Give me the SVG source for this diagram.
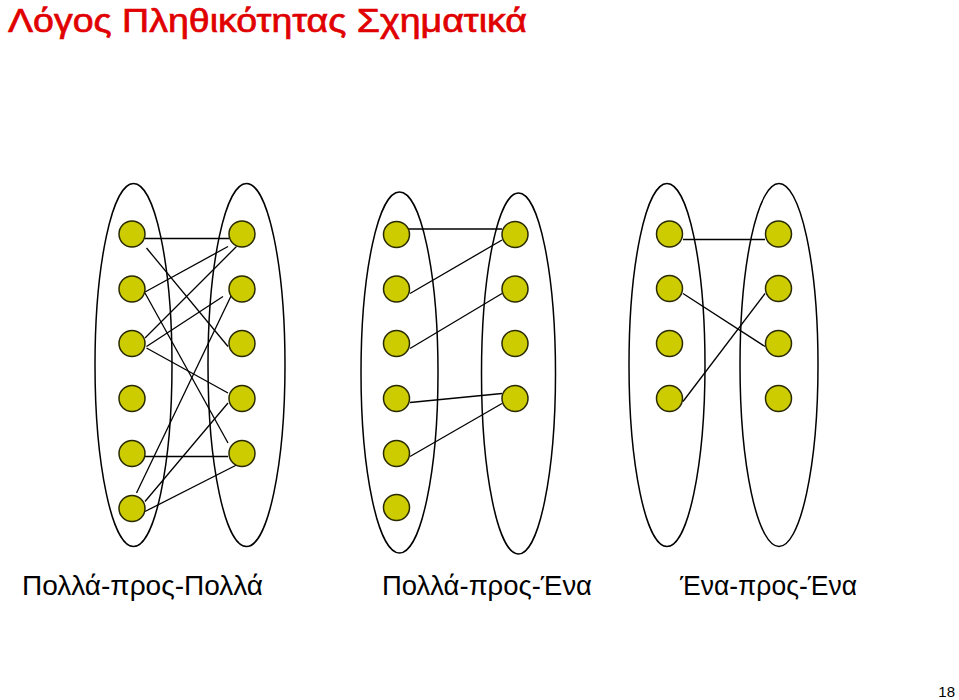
<svg xmlns="http://www.w3.org/2000/svg" width="959" height="700" viewBox="0 0 959 700">
<style>
.set{fill:none;stroke:#000;stroke-width:1.5}
.n{fill:#cccc00;stroke:#2a2a00;stroke-width:1.5}
.e{stroke:#000;stroke-width:1.3;fill:none}
.lbl{font-family:"Liberation Sans",Arial,sans-serif;font-size:28px;fill:#000}
.title{font-family:"Liberation Sans",Arial,sans-serif;font-size:34px;fill:#e00000;stroke:#e00000;stroke-width:0.7}
</style>
<rect width="959" height="700" fill="#fff"/>
<text class="title" x="8" y="32" textLength="519" lengthAdjust="spacingAndGlyphs">Λόγος Πληθικότητας Σχηματικά</text>

<g id="sets">
<ellipse id="set1L" class="set" cx="133.5" cy="365" rx="38.5" ry="181.5"/>
<ellipse id="set1R" class="set" cx="246.5" cy="365" rx="38.5" ry="181.5"/>
<ellipse id="set2L" class="set" cx="399.5" cy="372.5" rx="38.5" ry="180.5"/>
<ellipse id="set2R" class="set" cx="518.5" cy="373.5" rx="37" ry="180.5"/>
<ellipse id="set3L" class="set" cx="667" cy="365" rx="38" ry="181.5"/>
<ellipse id="set3R" class="set" cx="779" cy="365" rx="39" ry="181.5"/>
</g>

<g id="connectors">
<line class="e" x1="145" y1="238.5" x2="229" y2="238.5"/>
<line class="e" x1="146.5" y1="248" x2="228" y2="346.5"/>
<line class="e" x1="145" y1="292" x2="228" y2="246.5"/>
<line class="e" x1="145" y1="293" x2="228" y2="443"/>
<line class="e" x1="145" y1="338" x2="236.5" y2="246.5"/>
<line class="e" x1="146.5" y1="346.5" x2="223" y2="296.5"/>
<line class="e" x1="146.5" y1="348" x2="228" y2="393"/>
<line class="e" x1="145" y1="456.5" x2="228" y2="456.5"/>
<line class="e" x1="136.5" y1="493" x2="231.5" y2="295"/>
<line class="e" x1="145" y1="501.5" x2="228" y2="403"/>
<line class="e" x1="145" y1="511.5" x2="236.5" y2="465"/>

<line class="e" x1="408" y1="229" x2="502" y2="229"/>
<line class="e" x1="410" y1="293.5" x2="502" y2="240"/>
<line class="e" x1="410" y1="348.5" x2="502" y2="293.5"/>
<line class="e" x1="410" y1="402.5" x2="502" y2="393.5"/>
<line class="e" x1="410" y1="456.5" x2="502" y2="403.5"/>

<line class="e" x1="683" y1="239.5" x2="765" y2="239.5"/>
<line class="e" x1="683" y1="293.5" x2="765" y2="346.5"/>
<line class="e" x1="683" y1="401.5" x2="765" y2="293.5"/>
</g>

<g id="nodes1">
<circle id="a1" class="n" cx="132" cy="234" r="13"/>
<circle id="a2" class="n" cx="132" cy="289" r="13"/>
<circle id="a3" class="n" cx="132" cy="343.5" r="13"/>
<circle id="a4" class="n" cx="132" cy="398.5" r="13"/>
<circle id="a5" class="n" cx="132" cy="453.5" r="13"/>
<circle id="a6" class="n" cx="132" cy="508.5" r="13"/>
<circle id="b1" class="n" cx="242" cy="234" r="13"/>
<circle id="b2" class="n" cx="242" cy="289" r="13"/>
<circle id="b3" class="n" cx="242" cy="343.5" r="13"/>
<circle id="b4" class="n" cx="242" cy="398.5" r="13"/>
<circle id="b5" class="n" cx="242" cy="453.5" r="13"/>
</g>
<g id="nodes2">
<circle id="c1" class="n" cx="396.5" cy="234.5" r="13"/>
<circle id="c2" class="n" cx="396.5" cy="289" r="13"/>
<circle id="c3" class="n" cx="396.5" cy="343.5" r="13"/>
<circle id="c4" class="n" cx="396.5" cy="398.5" r="13"/>
<circle id="c5" class="n" cx="396.5" cy="453.5" r="13"/>
<circle id="c6" class="n" cx="396.5" cy="507.5" r="13"/>
<circle id="d1" class="n" cx="515" cy="234.5" r="13"/>
<circle id="d2" class="n" cx="515" cy="289" r="13"/>
<circle id="d3" class="n" cx="515" cy="343.5" r="13"/>
<circle id="d4" class="n" cx="515" cy="398.5" r="13"/>
</g>
<g id="nodes3">
<circle id="f1" class="n" cx="669.5" cy="234" r="13"/>
<circle id="f2" class="n" cx="669.5" cy="288.5" r="13"/>
<circle id="f3" class="n" cx="669.5" cy="343.5" r="13"/>
<circle id="f4" class="n" cx="669.5" cy="398.5" r="13"/>
<circle id="g1" class="n" cx="778.5" cy="234" r="13"/>
<circle id="g2" class="n" cx="778.5" cy="288.5" r="13"/>
<circle id="g3" class="n" cx="778.5" cy="343.5" r="13"/>
<circle id="g4" class="n" cx="778.5" cy="398.5" r="13"/>
</g>

<g id="labels">
<text class="lbl" x="22" y="595" textLength="241" lengthAdjust="spacingAndGlyphs">Πολλά-προς-Πολλά</text>
<text class="lbl" x="382" y="595" textLength="210" lengthAdjust="spacingAndGlyphs">Πολλά-προς-Ένα</text>
<text class="lbl" x="680" y="595" textLength="177" lengthAdjust="spacingAndGlyphs">Ένα-προς-Ένα</text>
</g>
<text x="955" y="697" text-anchor="end" style="font-family:'Liberation Sans',Arial,sans-serif;font-size:15px;fill:#000">18</text>
</svg>
